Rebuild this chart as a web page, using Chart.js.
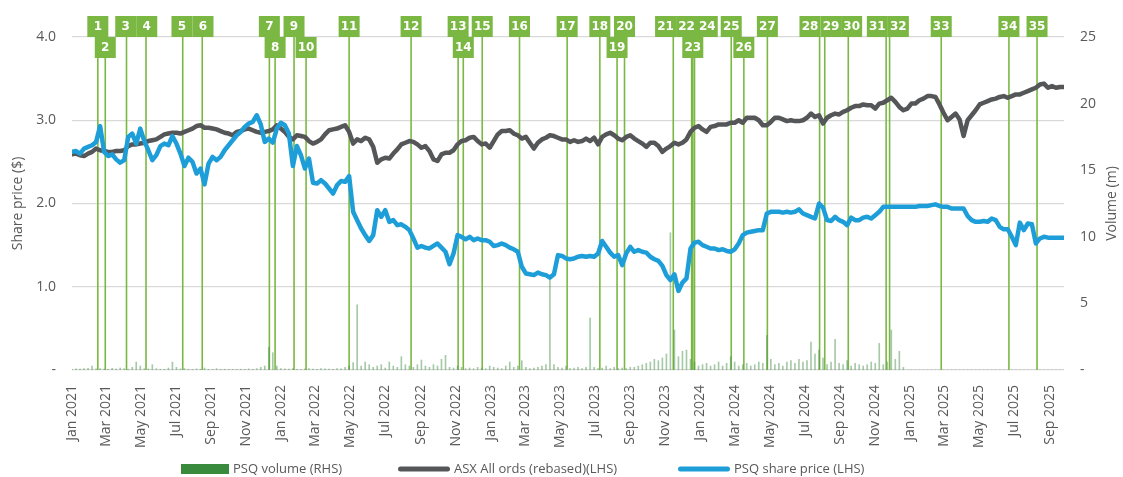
<!DOCTYPE html>
<html>
<head>
<meta charset="utf-8">
<title>PSQ share price vs ASX All Ords</title>
<script src="https://cdn.jsdelivr.net/npm/chart.js@4.4.1/dist/chart.umd.min.js"></script>
<style>
  html, body { margin: 0; padding: 0; background: #fff; }
  #wrap { width: 1123px; height: 477px; }
</style>
</head>
<body>
<div id="wrap"><canvas id="chart"></canvas></div>
<script>
// Weekly closes, first value is the week of 1 Jan 2021
const psqPrice = [
  2.62, 2.63, 2.60, 2.66, 2.68, 2.70, 2.74, 2.93, 2.62, 2.57,
  2.59, 2.53, 2.49, 2.52, 2.80, 2.84, 2.72, 2.90, 2.75, 2.64,
  2.52, 2.58, 2.69, 2.72, 2.70, 2.81, 2.72, 2.60, 2.45, 2.55,
  2.50, 2.36, 2.42, 2.23, 2.48, 2.56, 2.52, 2.56, 2.64, 2.70,
  2.76, 2.82, 2.86, 2.92, 2.96, 2.98, 3.06, 2.95, 2.74, 2.78,
  2.73, 2.90, 2.97, 2.94, 2.84, 2.45, 2.69, 2.58, 2.42, 2.54,
  2.25, 2.24, 2.28, 2.24, 2.18, 2.12, 2.22, 2.27, 2.26, 2.33,
  1.90, 1.80, 1.70, 1.62, 1.55, 1.62, 1.92, 1.84, 1.92, 1.78,
  1.80, 1.74, 1.75, 1.72, 1.68, 1.58, 1.47, 1.49, 1.47, 1.46,
  1.49, 1.52, 1.47, 1.42, 1.27, 1.40, 1.62, 1.60, 1.57, 1.60,
  1.56, 1.58, 1.56, 1.56, 1.54, 1.49, 1.50, 1.52, 1.50, 1.47,
  1.45, 1.42, 1.24, 1.16, 1.15, 1.14, 1.17, 1.15, 1.14, 1.11,
  1.15, 1.38, 1.37, 1.34, 1.33, 1.34, 1.36, 1.37, 1.36, 1.37,
  1.36, 1.40, 1.55, 1.48, 1.41, 1.36, 1.38, 1.26, 1.40, 1.48,
  1.42, 1.44, 1.42, 1.41, 1.36, 1.33, 1.31, 1.25, 1.14, 1.08,
  1.15, 0.95, 1.05, 1.10, 1.46, 1.53, 1.54, 1.50, 1.48, 1.46,
  1.46, 1.44, 1.45, 1.43, 1.42, 1.45, 1.52, 1.62, 1.65, 1.66,
  1.67, 1.68, 1.68, 1.88, 1.90, 1.90, 1.90, 1.89, 1.90, 1.89,
  1.90, 1.93, 1.88, 1.86, 1.84, 1.82, 2.00, 1.95, 1.80, 1.79,
  1.84, 1.80, 1.78, 1.74, 1.83, 1.80, 1.80, 1.83, 1.84, 1.82,
  1.86, 1.90, 1.96, 1.96, 1.96, 1.96, 1.96, 1.96, 1.96, 1.96,
  1.96, 1.97, 1.97, 1.97, 1.98, 1.99, 1.97, 1.96, 1.96, 1.94,
  1.94, 1.94, 1.94, 1.85, 1.80, 1.78, 1.78, 1.79, 1.78, 1.82,
  1.80, 1.72, 1.69, 1.69, 1.60, 1.50, 1.77, 1.68, 1.76, 1.75,
  1.52, 1.58, 1.60, 1.59, 1.59, 1.59, 1.59, 1.59
];

const asxRebased = [
  2.59, 2.60, 2.58, 2.57, 2.60, 2.62, 2.66, 2.64, 2.63, 2.62,
  2.62, 2.63, 2.63, 2.64, 2.69, 2.71, 2.71, 2.72, 2.73, 2.75,
  2.76, 2.77, 2.80, 2.83, 2.84, 2.85, 2.85, 2.84, 2.86, 2.88,
  2.90, 2.93, 2.94, 2.91, 2.91, 2.90, 2.89, 2.87, 2.85, 2.84,
  2.82, 2.86, 2.87, 2.89, 2.90, 2.88, 2.86, 2.85, 2.86, 2.87,
  2.89, 2.94, 2.90, 2.86, 2.80, 2.77, 2.82, 2.81, 2.80, 2.75,
  2.72, 2.74, 2.77, 2.83, 2.88, 2.89, 2.90, 2.92, 2.94, 2.86,
  2.72, 2.77, 2.75, 2.79, 2.77, 2.68, 2.49, 2.53, 2.55, 2.54,
  2.60, 2.65, 2.71, 2.73, 2.75, 2.74, 2.71, 2.67, 2.69, 2.63,
  2.53, 2.51, 2.59, 2.61, 2.61, 2.64, 2.71, 2.75, 2.76, 2.79,
  2.80, 2.75, 2.71, 2.72, 2.67, 2.75, 2.83, 2.87, 2.87, 2.88,
  2.84, 2.82, 2.78, 2.80, 2.73, 2.66, 2.73, 2.77, 2.79, 2.82,
  2.81, 2.79, 2.77, 2.77, 2.74, 2.76, 2.74, 2.75, 2.78, 2.75,
  2.79, 2.71, 2.80, 2.83, 2.85, 2.82, 2.78, 2.76, 2.80, 2.82,
  2.78, 2.75, 2.72, 2.68, 2.73, 2.73, 2.69, 2.62, 2.66, 2.69,
  2.73, 2.71, 2.73, 2.77, 2.86, 2.91, 2.93, 2.89, 2.86, 2.92,
  2.93, 2.95, 2.95, 2.95, 2.97, 2.97, 3.00, 2.97, 3.03, 3.03,
  3.03, 3.00, 2.94, 2.94, 2.98, 3.03, 3.03, 3.01, 2.99, 3.00,
  2.99, 2.99, 3.00, 3.03, 3.08, 3.04, 3.06, 2.96, 3.03, 3.06,
  3.08, 3.07, 3.10, 3.12, 3.15, 3.17, 3.17, 3.19, 3.18, 3.18,
  3.14, 3.20, 3.21, 3.24, 3.27, 3.22, 3.16, 3.12, 3.14, 3.20,
  3.20, 3.24, 3.26, 3.29, 3.29, 3.28, 3.19, 3.09, 3.00, 3.04,
  3.08, 3.01, 2.81, 3.00, 3.06, 3.12, 3.19, 3.21, 3.23, 3.25,
  3.26, 3.28, 3.29, 3.27, 3.29, 3.31, 3.31, 3.33, 3.35, 3.37,
  3.39, 3.43, 3.44, 3.39, 3.41, 3.39, 3.40, 3.40
];

// millions of shares, peak day in each week; no volume data after Nov 2024
const psqVolume = [
  0.05, 0.08, 0.06, 0.10, 0.12, 0.30, 0.08, 0.10, 0.06, 0.05,
  0.12, 0.08, 0.15, 0.10, 0.06, 0.20, 0.60, 0.30, 0.10, 0.08,
  0.40, 0.10, 0.06, 0.05, 0.15, 0.60, 0.20, 0.08, 0.10, 0.06,
  0.05, 0.08, 0.06, 0.15, 0.05, 0.04, 0.10, 0.05, 0.06, 0.05,
  0.05, 0.04, 0.06, 0.05, 0.08, 0.05, 0.10, 0.20, 0.30, 1.70,
  1.30, 0.30, 0.10, 0.08, 0.06, 0.10, 0.05, 0.04, 0.08, 0.10,
  0.06, 0.05, 0.10, 0.08, 0.06, 0.05, 0.10, 0.08, 0.20, 0.30,
  0.55, 4.90, 0.30, 0.60, 0.40, 0.20, 0.30, 0.40, 0.15, 0.60,
  0.30, 0.20, 1.00, 0.40, 0.30, 0.20, 0.40, 0.75, 0.30, 0.20,
  0.40, 0.30, 0.80, 1.10, 0.20, 0.15, 0.30, 0.20, 0.10, 0.15,
  0.10, 0.20, 0.15, 0.10, 0.30, 0.20, 0.15, 0.10, 0.30, 0.60,
  0.20, 0.30, 0.70, 0.20, 0.10, 0.15, 0.20, 0.30, 0.40, 6.80,
  0.40, 0.20, 0.15, 0.30, 0.10, 0.15, 0.20, 0.10, 0.20, 3.90,
  0.20, 0.10, 0.15, 0.30, 0.10, 0.20, 0.10, 0.15, 0.10, 0.20,
  0.20, 0.30, 0.40, 0.50, 0.60, 0.80, 0.70, 0.90, 1.20, 10.30,
  3.00, 1.00, 1.40, 1.50, 0.80, 0.60, 0.30, 0.40, 0.50, 0.30,
  0.40, 0.60, 0.30, 0.50, 1.00, 0.60, 0.30, 0.40, 0.50, 0.30,
  0.40, 0.60, 0.50, 2.60, 0.80, 0.40, 0.50, 0.30, 0.60, 0.70,
  0.50, 0.80, 0.60, 0.70, 2.10, 1.20, 1.50, 0.90, 0.40, 0.60,
  2.30, 0.50, 0.40, 0.70, 0.30, 0.50, 0.40, 0.30, 0.40, 0.60,
  0.50, 2.00, 0.40, 0.60, 3.00, 0.80, 1.40, 0.20, 0, 0,
  0, 0, 0, 0, 0, 0, 0, 0, 0, 0,
  0, 0, 0, 0, 0, 0, 0, 0, 0, 0,
  0, 0, 0, 0, 0, 0, 0, 0, 0, 0,
  0, 0, 0, 0, 0, 0, 0, 0
];

const seriesLabels = ['PSQ volume (RHS)', 'ASX All ords (rebased)(LHS)', 'PSQ share price (LHS)'];

const tickLabels = [
  'Jan 2021', 'Mar 2021', 'May 2021', 'Jul 2021', 'Sep 2021', 'Nov 2021',
  'Jan 2022', 'Mar 2022', 'May 2022', 'Jul 2022', 'Sep 2022', 'Nov 2022',
  'Jan 2023', 'Mar 2023', 'May 2023', 'Jul 2023', 'Sep 2023', 'Nov 2023',
  'Jan 2024', 'Mar 2024', 'May 2024', 'Jul 2024', 'Sep 2024', 'Nov 2024',
  'Jan 2025', 'Mar 2025', 'May 2025', 'Jul 2025', 'Sep 2025'
];

// numbered announcements 1..35
const eventDates = [
  '2021-02-15', '2021-02-28', '2021-04-06', '2021-05-10', '2021-07-13',
  '2021-08-16', '2021-12-11', '2021-12-21', '2022-01-23', '2022-02-13',
  '2022-04-29', '2022-08-15', '2022-11-05', '2022-11-14', '2022-12-17',
  '2023-02-20', '2023-05-14', '2023-07-10', '2023-08-09', '2023-08-22',
  '2023-11-15', '2023-12-17', '2023-12-19', '2023-12-22', '2024-02-24',
  '2024-03-17', '2024-04-27', '2024-07-27', '2024-08-05', '2024-09-15',
  '2024-11-20', '2024-11-26', '2025-02-24', '2025-06-22', '2025-08-10'
];
// which row of flags each number sits in
const eventRows = [1, 2, 1, 1, 1, 1, 1, 2, 1, 2, 1, 1, 1, 2, 1, 1, 1, 1, 2, 1,
                   1, 1, 2, 1, 1, 2, 1, 1, 1, 1, 1, 1, 1, 1, 1];

const BLUE = '#1E9ED9';
const GREY = '#555658';
const VOL_GREEN = '#3A8A3E';
const FLAG_GREEN = '#7AB843';
const TEXT = '#595959';
const FONT = "'Open Sans', sans-serif";

const MONTHS = ['Jan', 'Feb', 'Mar', 'Apr', 'May', 'Jun', 'Jul', 'Aug', 'Sep', 'Oct', 'Nov', 'Dec'];
const BASE = Date.UTC(2021, 0, 1);
function dayIndex(y, m, d) { return (Date.UTC(y, m, d) - BASE) / 86400000; }
function isoToDay(s) {
  const [y, m, d] = s.split('-').map(Number);
  return dayIndex(y, m - 1, d);
}
function labelToDay(l) {
  const [mon, yr] = l.split(' ');
  return dayIndex(Number(yr), MONTHS.indexOf(mon), 1);
}
const tickDays = tickLabels.map(labelToDay);
const toPoints = arr => arr.map((v, i) => ({ x: i * 7, y: v }));
const lastDay = (psqPrice.length - 1) * 7;

// spread flags in the same row so they don't overlap
function spreadFlags(xs, rows, w) {
  const pos = xs.slice();
  for (let it = 0; it < 80; it++) {
    [1, 2].forEach(r => {
      const idx = xs.map((_, i) => i).filter(i => rows[i] === r).sort((a, b) => pos[a] - pos[b]);
      for (let j = 1; j < idx.length; j++) {
        const a = idx[j - 1], b = idx[j];
        const overlap = w - (pos[b] - pos[a]);
        if (overlap > 0.5) { pos[a] -= overlap / 2; pos[b] += overlap / 2; }
      }
    });
  }
  return pos;
}

const FLAG_W = 21, FLAG_H = 21;

const eventFlags = {
  id: 'eventFlags',
  beforeDatasetsDraw(chart) {
    const { ctx, chartArea, scales: { x } } = chart;
    ctx.save();
    ctx.strokeStyle = FLAG_GREEN;
    ctx.lineWidth = 1.6;
    eventDates.forEach((d, i) => {
      const px = x.getPixelForValue(isoToDay(d));
      const top = chartArea.top + (eventRows[i] === 2 ? FLAG_H : 0);
      ctx.beginPath();
      ctx.moveTo(px, top);
      ctx.lineTo(px, chartArea.bottom);
      ctx.stroke();
    });
    ctx.restore();
  },
  afterDatasetsDraw(chart) {
    const { ctx, chartArea, scales: { x } } = chart;
    const xs = eventDates.map(d => x.getPixelForValue(isoToDay(d)));
    const centres = spreadFlags(xs, eventRows, FLAG_W);
    ctx.save();
    ctx.font = "bold 12px 'DejaVu Sans', Verdana, sans-serif";
    ctx.textAlign = 'center';
    ctx.textBaseline = 'middle';
    centres.forEach((cx, i) => {
      const top = eventRows[i] === 2 ? chartArea.top : chartArea.top - FLAG_H;
      ctx.fillStyle = FLAG_GREEN;
      ctx.fillRect(cx - FLAG_W / 2, top, FLAG_W, FLAG_H);
      ctx.fillStyle = '#fff';
      ctx.fillText(String(i + 1), cx, top + FLAG_H / 2 + 0.5);
    });
    ctx.restore();
  }
};

// right axis title reads bottom-to-top like the left one, plus the bottom legend
const extras = {
  id: 'extras',
  afterDraw(chart) {
    const { ctx, chartArea } = chart;
    ctx.save();
    ctx.fillStyle = TEXT;
    ctx.font = '14px ' + FONT;
    ctx.textAlign = 'center';
    ctx.textBaseline = 'middle';
    ctx.translate(1112, (chartArea.top + chartArea.bottom) / 2);
    ctx.rotate(-Math.PI / 2);
    ctx.fillText('Volume (m)', 0, 0);
    ctx.restore();

    const swatchX = [181, 398, 678];
    const ly = 469;
    ctx.save();
    ctx.font = '13px ' + FONT;
    ctx.textBaseline = 'middle';
    ctx.textAlign = 'left';
    chart.data.datasets.forEach((ds, i) => {
      const sx = swatchX[i];
      let end;
      if (ds.type === 'bar') {
        ctx.fillStyle = VOL_GREEN;
        ctx.fillRect(sx, ly - 5, 48, 10);
        end = sx + 48;
      } else {
        ctx.strokeStyle = ds.borderColor;
        ctx.lineWidth = 5;
        ctx.lineCap = 'round';
        ctx.beginPath();
        ctx.moveTo(sx + 2.5, ly);
        ctx.lineTo(sx + 49.5, ly);
        ctx.stroke();
        end = sx + 52;
      }
      ctx.fillStyle = TEXT;
      ctx.fillText(ds.label, end + 4, ly);
    });
    ctx.restore();
  }
};

const ctx = document.getElementById('chart').getContext('2d');
new Chart(ctx, {
  type: 'line',
  data: {
    datasets: [
      {
        type: 'bar',
        label: seriesLabels[0],
        data: toPoints(psqVolume),
        yAxisID: 'y1',
        backgroundColor: 'rgba(58,138,62,0.45)',
        barThickness: 1,
        order: 3
      },
      {
        label: seriesLabels[1],
        data: toPoints(asxRebased),
        yAxisID: 'y',
        borderColor: GREY,
        borderWidth: 4.5,
        pointRadius: 0,
        borderJoinStyle: 'round',
        borderCapStyle: 'round',
        tension: 0,
        order: 2
      },
      {
        label: seriesLabels[2],
        data: toPoints(psqPrice),
        yAxisID: 'y',
        borderColor: BLUE,
        borderWidth: 4.5,
        pointRadius: 0,
        borderJoinStyle: 'round',
        borderCapStyle: 'round',
        tension: 0,
        order: 1
      }
    ]
  },
  options: {
    responsive: true,
    maintainAspectRatio: false,
    animation: false,
    events: [],
    devicePixelRatio: 1,
    layout: { padding: { top: 37, left: 0, right: 0, bottom: 0 } },
    plugins: {
      legend: { display: false },
      tooltip: { enabled: false }
    },
    scales: {
      x: {
        type: 'linear',
        min: 0,
        max: lastDay,
        offset: false,
        grid: { display: false },
        border: { display: false },
        afterBuildTicks: scale => { scale.ticks = tickDays.map(v => ({ value: v })); },
        afterFit: scale => { scale.height = 107; },
        ticks: {
          autoSkip: false,
          minRotation: 90,
          maxRotation: 90,
          padding: 7,
          color: TEXT,
          font: { family: FONT, size: 14 },
          callback: (value, index) => tickLabels[index]
        }
      },
      y: {
        position: 'left',
        min: 0,
        max: 4,
        afterFit: scale => { scale.width = 72; },
        grid: { color: '#D9D9D9', lineWidth: 1.3, drawTicks: false },
        border: { display: false },
        ticks: {
          stepSize: 1,
          padding: 16,
          color: TEXT,
          font: { family: FONT, size: 14 },
          callback: v => (v === 0 ? '-' : v.toFixed(1))
        },
        title: {
          display: true,
          text: 'Share price ($)',
          color: TEXT,
          font: { family: FONT, size: 14 },
          padding: { top: 10, bottom: 0 }
        }
      },
      y1: {
        position: 'right',
        min: 0,
        max: 25,
        afterFit: scale => { scale.width = 59; },
        grid: { display: false, drawTicks: false },
        border: { display: false },
        ticks: {
          stepSize: 5,
          padding: 16,
          color: TEXT,
          font: { family: FONT, size: 14 },
          callback: v => (v === 0 ? '-' : String(v))
        }
      }
    }
  },
  plugins: [eventFlags, extras]
});
</script>
</body>
</html>
